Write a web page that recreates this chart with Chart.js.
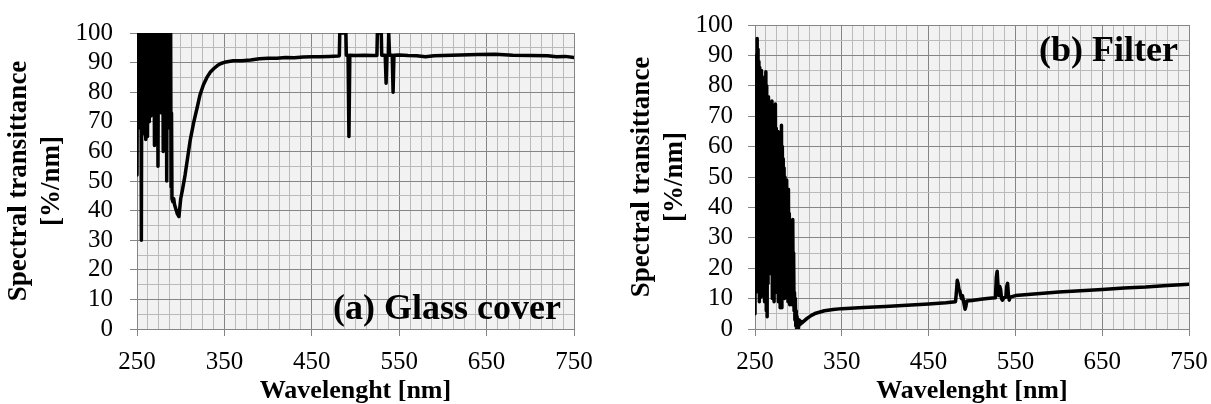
<!DOCTYPE html>
<html><head><meta charset="utf-8">
<script src="https://cdn.jsdelivr.net/npm/chart.js@4.4.1/dist/chart.umd.min.js"></script>
<style>
html,body{margin:0;padding:0;background:#fff;width:1211px;height:404px;overflow:hidden}
canvas{position:absolute;top:0}
#c1{left:0}
#c2{left:611px}
</style></head><body>
<canvas id="c1" width="600" height="404"></canvas>
<canvas id="c2" width="600" height="404"></canvas>
<script>
// ---------- DATA ----------
const xTickLabels = [250, 350, 450, 550, 650, 750];
const yTickLabels = [0, 10, 20, 30, 40, 50, 60, 70, 80, 90, 100];
const panelTitles = ['(a) Glass cover', '(b) Filter'];
const xAxisTitle = 'Wavelenght [nm]';
const yAxisTitle = ['Spectral transittance', '[%/nm]'];

// (a) Glass cover
const glassWavelength = [
  250,250.5,251,251.5,252,252.5,253,253.5,254,254.5,
  255,255.5,256,256.5,257,257.5,258,258.5,259,259.5,
  260,260.5,261,261.5,262,262.5,263,263.5,264,264.5,
  265,265.5,266,266.5,267,267.5,268,268.5,269,269.5,
  270,270.5,271,271.5,272,272.5,273,273.5,274,274.5,
  275,275.5,276,276.5,277,277.5,278,278.5,279,279.5,
  280,280.5,281,281.5,282,282.5,283,283.5,284,284.5,
  285,285.5,286,286.5,287,287.5,
  288,288.5,289,289.5,290,291,292,293,294,295,
  296,297,298,299,300,302,305,308,311,315,
  319,322,326,330,334,338,342,346,350,355,
  360,370,380,390,400,410,420,430,440,450,
  460,470,480,481.5,482,489,489.5,491.5,492.5,493.5,
  500,510,520,524.5,525,529.5,530,534,535,536,
  537.5,538,539,542,543,544,550,560,570,580,
  590,600,620,640,660,680,700,720,730,740,
  750
];
const glassTransmittance = [
  52,100,72,100,68,100,75,100,70,100,
  30,100,68,100,70,100,66,100,67,100,
  64,100,74,100,65,100,75,100,70,100,
  78,100,72,100,80,100,73,100,76,100,
  62,100,70,100,72,100,70,100,55,100,
  78,100,74,100,80,100,73,100,76,100,
  60,100,75,100,72,100,78,100,50,100,
  72,100,76,100,68,100,
  68,100,48,73,44,43,44,42,41,40,
  39,38.5,38,41,44,47,52,58,64,70,
  75,79,82.5,85,86.8,88,89,89.7,90.1,90.4,
  90.6,90.6,90.9,91.3,91.5,91.5,91.7,91.6,91.9,92,
  92,92.1,92.2,92.3,100,100,92.5,92.5,65,92.5,
  92.4,92.5,92.4,92.4,100,100,92.5,92.5,83,92.5,
  92.5,100,92.5,92.5,80,92.5,92.6,92.4,92.3,92,
  92.3,92.4,92.6,92.7,92.8,92.5,92.4,92.3,92,92.1,
  91.7
];

// (b) Filter
const filterWavelength = [
  250,250.5,251,251.5,252,252.5,253,253.5,254,254.5,
  255,255.5,256,256.5,257,257.5,258,258.5,259,259.5,
  260,260.5,261,261.5,262,262.5,263,263.5,264,264.5,
  265,265.5,266,266.5,267,267.5,268,268.5,269,269.5,
  270,270.5,271,271.5,272,272.5,273,273.5,274,274.5,
  275,275.5,276,276.5,277,277.5,278,278.5,279,279.5,
  280,280.5,281,281.5,282,282.5,283,283.5,284,284.5,
  285,285.5,286,286.5,287,287.5,288,288.5,289,289.5,
  290,290.5,291,291.5,292,292.5,293,293.5,294,294.5,
  295,295.5,296,296.5,297,297.5,298,298.5,299,299.5,
  300,301,302,303,304,306,308,310,315,320,
  325,330,340,350,375,400,425,450,470,481,
  482,483,484,485,486,487,488,489,490,491,
  492,493,494,500,510,520,527,528,529,530,
  531,532,533,534,535,537,539,540,541,542,
  543,544,550,575,600,625,650,675,700,725,
  750
];
const filterTransmittance = [
  5,60,12,90,18,95.6,14,92,20,88,
  9,86,15,80,10.5,85,12,82,18,78,
  20,80,9,83,12,84.6,6,80,4,76,
  15,76.4,18,72,20,74,23,70,22,75,
  10,72,15,70,9,73,12,74,16,66,
  20,64,12,65,9,60,14,62,7,64,
  8,67,7,60,12,56,15,53,10,50,
  12,48,10.5,49,14,45,9,46,12,38,
  8,35,11,30,13,34,8,36,10,25,
  6,12,3,10,1,6,0,4,1,2,
  0,3,1.5,2.5,2,2.5,3,3.5,4.5,5.2,
  5.6,6,6.4,6.7,7.1,7.4,7.8,8.2,8.6,9,
  12,16,15,13,12.5,11,10,11,9.5,8,
  6.5,7.5,9.2,9.4,9.8,10.1,10.3,17,19,14,
  11,14,13,10,9.5,10.3,10.5,14,15,11,
  9.5,10.5,11,11.6,12.2,12.6,13,13.5,13.8,14.3,
  14.7
];

// ---------- STYLE ----------
const FONT = '"Liberation Serif", "Times New Roman", serif';
const MAJOR = '#858585';
const MINOR = '#bababa';
const PLOT_BG = '#f2f2f2';

const plotBg = {
  id: 'plotBg',
  beforeDraw(chart) {
    const { ctx, chartArea: a } = chart;
    ctx.save();
    ctx.fillStyle = PLOT_BG;
    ctx.fillRect(a.left, a.top, a.right - a.left, a.bottom - a.top);
    ctx.restore();
  }
};

const panelLabel = {
  id: 'panelLabel',
  afterDraw(chart, args, o) {
    const { ctx, chartArea: a } = chart;
    ctx.save();
    ctx.font = 'bold 36px ' + FONT;
    ctx.fillStyle = '#000';
    ctx.textAlign = 'right';
    ctx.textBaseline = 'alphabetic';
    ctx.fillText(o.text, a.right - o.dx, a.top + o.dy);
    ctx.restore();
  }
};

function isMajorX(v) { return xTickLabels.includes(v); }
function isMajorY(v) { return yTickLabels.includes(v); }

function makeChart(id, wl, T, cfg) {
  return new Chart(document.getElementById(id), {
    type: 'line',
    data: {
      datasets: [{
        data: wl.map((x, i) => ({ x: x, y: T[i] })),
        borderColor: '#000',
        borderWidth: 3.5,
        borderDash: [100000, 0],
        pointRadius: 0,
        pointHoverRadius: 0,
        tension: 0,
        fill: false,
        clip: 0,
        borderJoinStyle: 'round',
        borderCapStyle: 'round'
      }]
    },
    options: {
      responsive: false,
      animation: false,
      events: [],
      layout: { padding: { top: cfg.padTop, right: cfg.padRight, left: 0, bottom: 0 } },
      plugins: {
        legend: { display: false },
        tooltip: { enabled: false },
        panelLabel: { text: cfg.label, dx: cfg.labelDx, dy: cfg.labelDy }
      },
      scales: {
        x: {
          type: 'linear', min: 250, max: 750,
          afterBuildTicks(s) { const t = []; for (let v = 250; v <= 750; v += 12.5) t.push({ value: v }); s.ticks = t; },
          afterFit(s) { s.height = 75; s.paddingLeft = 0; s.paddingRight = 0; },
          ticks: {
            autoSkip: false, maxRotation: 0, minRotation: 0, padding: 11, color: '#000',
            font: { family: FONT, size: 25 },
            callback: (v) => isMajorX(v) ? String(v) : ''
          },
          grid: {
            color: (c) => (c.tick && isMajorX(c.tick.value)) ? MAJOR : MINOR,
            tickColor: (c) => (c.tick && isMajorX(c.tick.value)) ? MAJOR : 'rgba(0,0,0,0)',
            tickLength: 7, lineWidth: 1
          },
          border: { display: true, color: MAJOR, width: 1 },
          title: {
            display: true, text: xAxisTitle, color: '#000', padding: 0,
            font: { family: FONT, size: 26, weight: 'bold', lineHeight: 1 }
          }
        },
        y: {
          min: 0, max: 100,
          afterBuildTicks(s) { const t = []; for (let v = 0; v <= 100; v += 5) t.push({ value: v }); s.ticks = t; },
          afterFit(s) { s.width = cfg.yWidth; s.paddingTop = 0; s.paddingBottom = 0; },
          ticks: {
            autoSkip: false, padding: cfg.yLabelPad, color: '#000',
            font: { family: FONT, size: 25 },
            callback: (v) => isMajorY(v) ? String(v) : ''
          },
          grid: {
            color: (c) => (c.tick && isMajorY(c.tick.value)) ? MAJOR : MINOR,
            tickColor: (c) => (c.tick && isMajorY(c.tick.value)) ? MAJOR : 'rgba(0,0,0,0)',
            tickLength: 7, lineWidth: 1
          },
          border: { display: true, color: MAJOR, width: 1 },
          title: {
            display: true, text: yAxisTitle, color: '#000',
            padding: { top: cfg.yTitlePad, bottom: 0 },
            font: { family: FONT, size: 27, weight: 'bold', lineHeight: 1.2 }
          }
        }
      }
    },
    plugins: [plotBg, panelLabel]
  });
}

makeChart('c1', glassWavelength, glassTransmittance, {
  padTop: 33, padRight: 26, yWidth: 137, yLabelPad: 17, yTitlePad: 3,
  label: panelTitles[0], labelDx: 13, labelDy: 286
});
makeChart('c2', filterWavelength, filterTransmittance, {
  padTop: 25, padRight: 22, yWidth: 144, yLabelPad: 15, yTitlePad: 15,
  label: panelTitles[1], labelDx: 11, labelDy: 36
});
</script>
</body></html>
